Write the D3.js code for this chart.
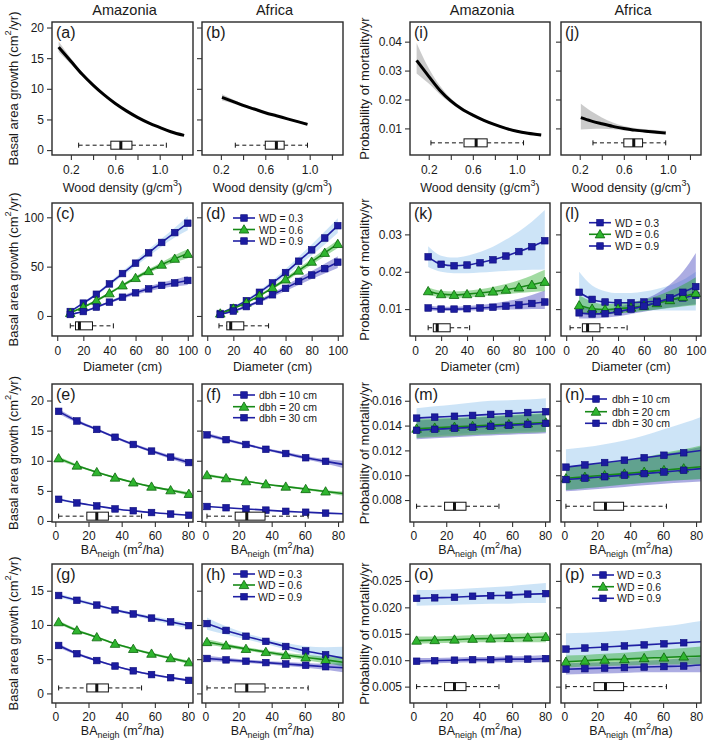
<!DOCTYPE html>
<html><head><meta charset="utf-8">
<script src="https://cdn.jsdelivr.net/npm/d3@7"></script>
<style>body{margin:0;background:#fff} svg text{font-family:"Liberation Sans",Arial,sans-serif;fill:#1a1a1a}</style>
</head><body><svg id="c" width="709" height="743"></svg>
<script>
// ---------------- DATA ----------------
const regions = ["Amazonia","Africa","Amazonia","Africa"];
const panelLabels = ["(a)","(b)","(c)","(d)","(e)","(f)","(g)","(h)","(i)","(j)","(k)","(l)","(m)","(n)","(o)","(p)"];
const wdTicks = [0.2,0.4,0.6,0.8,1.0,1.2], wdTickLabels = [0.2,0.6,1.0];
const dbhTicks = [0,20,40,60,80,100];
const baTicks = [0,20,40,60,80];
const legendWD = ["WD = 0.3","WD = 0.6","WD = 0.9"];
const legendDbh = ["dbh = 10 cm","dbh = 20 cm","dbh = 30 cm"];

// Row 1: wood density
const wdAm = [0.09,0.2,0.3,0.4,0.5,0.6,0.7,0.8,0.9,1.0,1.1,1.22];
const growthAm   = [16.8,14.5,12.4,10.6,9.0,7.6,6.4,5.35,4.45,3.7,3.0,2.4];
const growthAmLo = [16.0,14.0,12.1,10.4,8.85,7.5,6.3,5.25,4.35,3.6,2.9,2.25];
const growthAmHi = [17.7,15.0,12.7,10.8,9.15,7.7,6.5,5.45,4.55,3.8,3.1,2.55];
const mortAm   = [0.0335,0.028,0.0232,0.0195,0.0167,0.0146,0.0128,0.0113,0.0100,0.0090,0.0083,0.0077];
const mortAmLo = [0.0290,0.0255,0.0218,0.0187,0.0161,0.0141,0.0124,0.0109,0.0097,0.0087,0.0079,0.0072];
const mortAmHi = [0.0395,0.0308,0.0248,0.0204,0.0173,0.0151,0.0132,0.0117,0.0104,0.0094,0.0087,0.0082];
const wdAf = [0.21,0.3,0.4,0.5,0.6,0.7,0.8,0.9,0.98];
const growthAf   = [8.6,8.0,7.3,6.7,6.1,5.6,5.1,4.6,4.2];
const growthAfLo = [8.1,7.65,7.05,6.5,5.95,5.45,4.95,4.45,4.0];
const growthAfHi = [9.1,8.35,7.55,6.9,6.25,5.75,5.25,4.8,4.45];
const mortAf   = [0.0137,0.0126,0.0116,0.0107,0.0100,0.0094,0.0090,0.0087,0.0084];
const mortAfLo = [0.0096,0.0098,0.0099,0.0097,0.0093,0.0089,0.0085,0.0081,0.0077];
const mortAfHi = [0.0185,0.0160,0.0138,0.0120,0.0108,0.0101,0.0097,0.0094,0.0092];

// Row 2: diameter
const dbh = [10,20,30,40,50,60,70,80,90,100];
const c03 = [4.5,13,22,32.5,43,53.5,64,74.5,84.5,94];
const c03lo = [3.5,11.8,20.5,30.5,40.5,50.5,60.5,70.5,79.5,87];
const c03hi = [5.5,14.2,23.5,34.5,45.5,56.5,67.5,78.5,89.5,101];
const c06 = [3,9,15.5,23,31,38.5,45.5,52,58,63];
const c06lo = [2.3,8,14.3,21.7,29.5,36.8,43.5,49.5,54.5,58.5];
const c06hi = [3.7,10,16.7,24.3,32.5,40.2,47.5,54.5,61.5,67.5];
const c09 = [1.5,4.5,9,14,19,23.5,27.5,31,33.5,36];
const c09lo = [1,3.8,8,12.7,17.4,21.5,25,28,30,31.5];
const c09hi = [2,5.2,10,15.3,20.6,25.5,30,34,37,40.5];
const d03 = [2.5,8.5,15.5,24,33.5,44,55.5,67,79,91.5];
const d03lo = [1.8,7.5,14,22,31,40.5,51,61.5,72.5,84];
const d03hi = [3.2,9.5,17,26,36,47.5,60,72.5,85.5,99];
const d06 = [2.5,7.5,13.5,20.5,28.5,37,46,55,64,73];
const d06lo = [1.9,6.8,12.5,19.3,27,35,43.5,52,60.5,69];
const d06hi = [3.1,8.2,14.5,21.7,30,39,48.5,58,67.5,77];
const d09 = [1.5,5,9.5,15,21.5,28,35,41.5,48,54.5];
const d09lo = [0.8,4,8.2,13.3,19.3,25.3,31.5,37.5,43,48.5];
const d09hi = [2.2,6,10.8,16.7,23.7,30.7,38.5,45.5,53,60.5];
const k03 = [0.024,0.022,0.0216,0.0218,0.0224,0.0232,0.0242,0.0254,0.0267,0.0283];
const k03lo = [0.0213,0.0200,0.0196,0.0196,0.0198,0.0200,0.0202,0.0204,0.0205,0.0206];
const k03hi = [0.0268,0.0243,0.0238,0.0243,0.0253,0.0267,0.0286,0.0308,0.0334,0.0365];
const k06 = [0.0148,0.014,0.0138,0.014,0.0143,0.0147,0.0152,0.0158,0.0165,0.0173];
const k06lo = [0.0138,0.0132,0.0130,0.0132,0.0134,0.0137,0.0140,0.0143,0.0146,0.0148];
const k06hi = [0.0158,0.0149,0.0147,0.0149,0.0153,0.0159,0.0167,0.0177,0.0190,0.0205];
const k09 = [0.0103,0.0100,0.0100,0.0101,0.0103,0.0105,0.0108,0.0111,0.0115,0.0119];
const k09lo = [0.0096,0.0095,0.0095,0.0096,0.0097,0.0098,0.0099,0.0099,0.0100,0.0100];
const k09hi = [0.0110,0.0106,0.0106,0.0108,0.0111,0.0115,0.0121,0.0128,0.0138,0.0150];
const l03 = [0.0145,0.0126,0.0119,0.0117,0.0117,0.0119,0.0121,0.0125,0.0130,0.0137];
const l03lo = [0.0100,0.0097,0.0096,0.0096,0.0096,0.0096,0.0096,0.0096,0.0096,0.0096];
const l03hi = [0.0200,0.0163,0.0148,0.0143,0.0143,0.0147,0.0154,0.0163,0.0178,0.0200];
const l06 = [0.0110,0.0101,0.0099,0.0101,0.0104,0.0109,0.0116,0.0124,0.0133,0.0143];
const l06lo = [0.0088,0.0085,0.0086,0.0088,0.0091,0.0095,0.0099,0.0103,0.0107,0.0110];
const l06hi = [0.0137,0.0120,0.0113,0.0115,0.0119,0.0125,0.0135,0.0149,0.0165,0.0185];
const l09 = [0.0090,0.0087,0.0088,0.0093,0.0100,0.0108,0.0118,0.0130,0.0145,0.0160];
const l09lo = [0.0075,0.0075,0.0077,0.0081,0.0087,0.0093,0.0099,0.0104,0.0109,0.0113];
const l09hi = [0.0108,0.0101,0.0100,0.0106,0.0115,0.0126,0.0142,0.0166,0.0200,0.0250];

// Rows 3-4: neighbourhood basal area
const baAm = [2,13,25,36,47,58,69.5,80.5];
const baAf = [1,12.5,24.5,36.5,48.5,60.5,72.5,83];
const e30 = [18.2,16.6,15.2,13.9,12.7,11.6,10.6,9.7];
const e30lo = [17.8,16.3,15.0,13.7,12.5,11.35,10.3,9.3];
const e30hi = [18.6,16.9,15.4,14.1,12.9,11.85,10.9,10.1];
const e20 = [10.4,9.2,8.1,7.2,6.4,5.7,5.1,4.5];
const e20lo = [10.1,9.0,7.95,7.05,6.25,5.55,4.9,4.2];
const e20hi = [10.7,9.4,8.25,7.35,6.55,5.85,5.3,4.8];
const e10 = [3.6,3.0,2.5,2.0,1.7,1.4,1.15,0.95];
const e10lo = [3.4,2.85,2.4,1.92,1.62,1.32,1.05,0.82];
const e10hi = [3.8,3.15,2.6,2.08,1.78,1.48,1.25,1.08];
const f30 = [14.3,13.5,12.7,11.9,11.2,10.5,9.9,9.4];
const f30lo = [14.0,13.25,12.5,11.7,10.95,10.2,9.5,8.8];
const f30hi = [14.6,13.75,12.9,12.1,11.45,10.8,10.3,10.0];
const f20 = [7.6,7.1,6.6,6.1,5.7,5.3,4.9,4.55];
const f20lo = [7.35,6.9,6.45,5.97,5.55,5.12,4.7,4.2];
const f20hi = [7.85,7.3,6.75,6.23,5.85,5.48,5.1,4.9];
const f10 = [2.4,2.2,2.0,1.8,1.6,1.45,1.3,1.2];
const f10lo = [2.3,2.12,1.93,1.73,1.53,1.37,1.2,1.08];
const f10hi = [2.5,2.28,2.07,1.87,1.67,1.53,1.4,1.32];
const m10 = [0.0146,0.01468,0.01475,0.01482,0.0149,0.01497,0.01505,0.01512];
const m10lo = [0.0131,0.0132,0.0133,0.0134,0.01345,0.0135,0.01355,0.0136];
const m10hi = [0.0154,0.01555,0.0157,0.01585,0.016,0.01605,0.0161,0.0162];
const m20 = [0.01375,0.01383,0.0139,0.01397,0.01404,0.01411,0.01418,0.01425];
const m20lo = [0.0130,0.01308,0.01316,0.01324,0.0133,0.01336,0.01342,0.01348];
const m20hi = [0.0145,0.01458,0.01464,0.0147,0.01478,0.01486,0.01494,0.01502];
const m30 = [0.01362,0.0137,0.01378,0.01386,0.01394,0.01402,0.0141,0.01418];
const m30lo = [0.0129,0.01298,0.01306,0.01314,0.0132,0.01326,0.01332,0.01338];
const m30hi = [0.0144,0.01448,0.01456,0.01464,0.01472,0.0148,0.01488,0.01496];
const n10 = [0.01065,0.01083,0.01102,0.01121,0.01141,0.01161,0.01181,0.01199];
const n10lo = [0.0088,0.00895,0.0091,0.00925,0.0094,0.00952,0.00962,0.0097];
const n10hi = [0.0121,0.01225,0.0125,0.0128,0.0132,0.0137,0.0142,0.0147];
const n20 = [0.00975,0.00987,0.0100,0.01013,0.01027,0.01041,0.01055,0.01068];
const n20lo = [0.0088,0.00895,0.0091,0.00925,0.0094,0.00952,0.00962,0.0097];
const n20hi = [0.0107,0.01083,0.0110,0.0112,0.01145,0.0118,0.0121,0.0124];
const n30 = [0.00965,0.00976,0.00988,0.0100,0.01013,0.01026,0.0104,0.01053];
const n30lo = [0.0087,0.0088,0.00893,0.00906,0.0092,0.00932,0.00942,0.0095];
const n30hi = [0.0107,0.0108,0.01095,0.01115,0.0114,0.0117,0.0120,0.0123];
const g03 = [14.3,13.6,12.9,12.2,11.6,11.0,10.45,9.9];
const g03lo = [14.0,13.35,12.7,12.0,11.35,10.7,10.1,9.45];
const g03hi = [14.6,13.85,13.1,12.4,11.85,11.3,10.8,10.35];
const g06 = [10.4,9.2,8.2,7.25,6.5,5.8,5.15,4.55];
const g06lo = [10.15,9.0,8.05,7.1,6.35,5.62,4.95,4.3];
const g06hi = [10.65,9.4,8.35,7.4,6.65,5.98,5.35,4.8];
const g09 = [7.0,5.8,4.8,4.0,3.3,2.75,2.3,1.9];
const g09lo = [6.7,5.6,4.65,3.88,3.18,2.62,2.15,1.72];
const g09hi = [7.3,6.0,4.95,4.12,3.42,2.88,2.45,2.08];
const h03 = [10.2,9.2,8.35,7.6,6.85,6.2,5.65,5.15];
const h03lo = [9.3,8.6,7.9,7.2,6.4,5.6,4.75,3.8];
const h03hi = [11.1,9.8,8.8,8.0,7.35,6.9,6.75,6.8];
const h06 = [7.5,7.0,6.5,6.05,5.6,5.25,4.9,4.55];
const h06lo = [7.1,6.7,6.25,5.8,5.3,4.85,4.4,4.0];
const h06hi = [7.9,7.3,6.75,6.3,5.9,5.65,5.4,5.4];
const h09 = [5.1,4.9,4.7,4.5,4.3,4.1,3.9,3.75];
const h09lo = [4.7,4.6,4.45,4.25,4.0,3.75,3.45,3.1];
const h09hi = [5.5,5.2,4.95,4.75,4.6,4.45,4.35,4.4];
const o03 = [0.0217,0.0218,0.0219,0.0221,0.0222,0.0223,0.0225,0.0226];
const o03lo = [0.0203,0.0204,0.0205,0.0206,0.0207,0.0207,0.0208,0.0208];
const o03hi = [0.0233,0.0233,0.0234,0.0236,0.0238,0.0240,0.0243,0.0246];
const o06 = [0.0137,0.0138,0.0139,0.01405,0.0141,0.0142,0.0143,0.0144];
const o06lo = [0.0131,0.0132,0.0133,0.0134,0.0134,0.0134,0.0134,0.0134];
const o06hi = [0.0145,0.0145,0.0146,0.0147,0.0148,0.0150,0.0151,0.0153];
const o09 = [0.0098,0.0099,0.0100,0.0101,0.0101,0.0102,0.0102,0.0103];
const o09lo = [0.0093,0.0094,0.0095,0.0096,0.0096,0.0096,0.0096,0.0096];
const o09hi = [0.0104,0.0104,0.0105,0.0106,0.0106,0.0107,0.0108,0.0110];
const p03 = [0.0121,0.0123,0.0125,0.0127,0.0129,0.0131,0.0133,0.0135];
const p03lo = [0.0098,0.0100,0.0102,0.0103,0.0104,0.0105,0.0105,0.0105];
const p03hi = [0.0151,0.0152,0.0154,0.0156,0.0160,0.0164,0.0169,0.0174];
const p06 = [0.0097,0.0099,0.0101,0.0102,0.0104,0.0105,0.0107,0.0108];
const p06lo = [0.0086,0.0088,0.0089,0.0090,0.0091,0.0092,0.0092,0.0092];
const p06hi = [0.0109,0.0110,0.0112,0.0114,0.0117,0.0120,0.0123,0.0126];
const p09 = [0.0083,0.0084,0.0085,0.0086,0.0087,0.0088,0.0089,0.0091];
const p09lo = [0.0073,0.0074,0.0075,0.0076,0.0077,0.0077,0.0077,0.0077];
const p09hi = [0.0094,0.0095,0.0096,0.0097,0.0099,0.0101,0.0103,0.0106];

// Box plots: [min, q1, median, q3, max]
const boxWdAmG = [0.27,0.56,0.65,0.75,1.06], boxWdAfG = [0.33,0.6,0.70,0.77,0.98];
const boxWdAmM = [0.22,0.52,0.63,0.73,1.06], boxWdAfM = [0.32,0.6,0.69,0.77,0.98];
const boxDbhC = [10,14,17,27,43], boxDbhD = [9,15,18,28,47];
const boxDbhK = [10,14,17,27,42], boxDbhL = [3,12.5,16.5,26,47];
const boxBaAm = [2,19,25,32,52], boxBaAf = [1,18,25,36,62];

// ---------------- LAYOUT / STYLE ----------------
const colX=[52,202,410,561], colW=[141,141,140,140];
const rowY=[22,203,384,564], rowH=[133,133,138,139];
const tickPad=[5.5,5.5,4.5,4.5];
const xTitleY=[188,367,550,731];
const BAND={lb:"rgba(100,170,230,0.32)", gr:"rgba(34,170,34,0.42)", pu:"rgba(70,70,190,0.45)"};
const bandOrder={lb:0,pu:1,gr:2};
const SQ_FILL="#1c1ca0", SQ_STROKE="#0a0a78", BLUE_LINE="#2020a4";
const TRI_FILL="#2fb52f", TRI_STROKE="#0c660c", GREEN_LINE="#178a17";

const S=(x,y,lo,hi,shape,band)=>({x,y,lo,hi,shape,band});
const panels=[
 {lab:0,col:0,row:0,xd:[0.03,1.3],yd:[-0.8,20.9],xt:wdTicks,xl:wdTickLabels,xf:".1f",yt:[0,5,10,15,20],yf:"d",
  curve:S(wdAm,growthAm,growthAmLo,growthAmHi),box:boxWdAmG,boxY:0.8},
 {lab:1,col:1,row:0,xd:[0.03,1.3],yd:[-0.8,20.9],xt:wdTicks,xl:wdTickLabels,xf:".1f",yt:[0,5,10,15,20],yf:"d",
  curve:S(wdAf,growthAf,growthAfLo,growthAfHi),box:boxWdAfG,boxY:0.8},
 {lab:8,col:2,row:0,xd:[0.03,1.3],yd:[0.0008,0.0468],xt:wdTicks,xl:wdTickLabels,xf:".1f",yt:[0.01,0.02,0.03,0.04],yf:".2f",
  curve:S(wdAm,mortAm,mortAmLo,mortAmHi),box:boxWdAmM,boxY:0.005},
 {lab:9,col:3,row:0,xd:[0.03,1.3],yd:[0.0008,0.0468],xt:wdTicks,xl:wdTickLabels,xf:".1f",yt:[0.01,0.02,0.03,0.04],yf:".2f",
  curve:S(wdAf,mortAf,mortAfLo,mortAfHi),box:boxWdAfM,boxY:0.005},
 {lab:2,col:0,row:1,xd:[-4,104],yd:[-20.3,114.5],xt:dbhTicks,xl:dbhTicks,xf:"d",yt:[0,50,100],yf:"d",mk:100,
  series:[S(dbh,c03,c03lo,c03hi,"sq","lb"),S(dbh,c06,c06lo,c06hi,"tri","gr"),S(dbh,c09,c09lo,c09hi,"sq","pu")],box:boxDbhC,boxY:-10},
 {lab:3,col:1,row:1,xd:[-4,104],yd:[-20.3,114.5],xt:dbhTicks,xl:dbhTicks,xf:"d",yt:[0,50,100],yf:"d",mk:100,
  series:[S(dbh,d03,d03lo,d03hi,"sq","lb"),S(dbh,d06,d06lo,d06hi,"tri","gr"),S(dbh,d09,d09lo,d09hi,"sq","pu")],box:boxDbhD,boxY:-10,
  legend:{labels:legendWD,x:31,tx:57,ys:[15,26.5,38]}},
 {lab:10,col:2,row:1,xd:[-4,104],yd:[0.0028,0.0384],xt:dbhTicks,xl:dbhTicks,xf:"d",yt:[0.01,0.02,0.03],yf:".2f",mk:100,
  series:[S(dbh,k03,k03lo,k03hi,"sq","lb"),S(dbh,k06,k06lo,k06hi,"tri","gr"),S(dbh,k09,k09lo,k09hi,"sq","pu")],box:boxDbhK,boxY:0.005},
 {lab:11,col:3,row:1,xd:[-4,104],yd:[0.0028,0.0384],xt:dbhTicks,xl:dbhTicks,xf:"d",yt:[0.01,0.02,0.03],yf:".2f",mk:100,
  series:[S(dbh,l03,l03lo,l03hi,"sq","lb"),S(dbh,l06,l06lo,l06hi,"tri","gr"),S(dbh,l09,l09lo,l09hi,"sq","pu")],box:boxDbhL,boxY:0.005,
  legend:{labels:legendWD,x:28,tx:54,ys:[19.7,31.3,43]}},
 {lab:4,col:0,row:2,xd:[-2,83],yd:[-0.17,22.74],xt:baTicks,xl:baTicks,xf:"d",yt:[0,5,10,15,20],yf:"d",mk:81,
  series:[S(baAm,e10,e10lo,e10hi,"sq","lb"),S(baAm,e20,e20lo,e20hi,"tri","gr"),S(baAm,e30,e30lo,e30hi,"sq","pu")],box:boxBaAm,boxY:0.8},
 {lab:5,col:1,row:2,xd:[-2,83],yd:[-0.17,22.74],xt:baTicks,xl:baTicks,xf:"d",yt:[0,5,10,15,20],yf:"d",mk:81,
  series:[S(baAf,f10,f10lo,f10hi,"sq","lb"),S(baAf,f20,f20lo,f20hi,"tri","gr"),S(baAf,f30,f30lo,f30hi,"sq","pu")],box:boxBaAf,boxY:0.8,
  legend:{labels:legendDbh,x:31,tx:57,ys:[11,22.7,33.7]}},
 {lab:12,col:2,row:2,xd:[-2,83],yd:[0.00623,0.01735],xt:baTicks,xl:baTicks,xf:"d",yt:[0.008,0.010,0.012,0.014,0.016],yf:".3f",mk:81,
  series:[S(baAm,m10,m10lo,m10hi,"sq","lb"),S(baAm,m20,m20lo,m20hi,"tri","gr"),S(baAm,m30,m30lo,m30hi,"sq","pu")],box:boxBaAm,boxY:0.0075},
 {lab:13,col:3,row:2,xd:[-2,83],yd:[0.00623,0.01735],xt:baTicks,xl:baTicks,xf:"d",yt:[0.008,0.010,0.012,0.014,0.016],yf:".3f",mk:81,
  series:[S(baAf,n10,n10lo,n10hi,"sq","lb"),S(baAf,n20,n20lo,n20hi,"tri","gr"),S(baAf,n30,n30lo,n30hi,"sq","pu")],box:boxBaAf,boxY:0.0075,
  legend:{labels:legendDbh,x:24,tx:51,ys:[15,27.7,39.3]}},
 {lab:6,col:0,row:3,xd:[-2,83],yd:[-1.4,18.9],xt:baTicks,xl:baTicks,xf:"d",yt:[0,5,10,15],yf:"d",mk:81,
  series:[S(baAm,g03,g03lo,g03hi,"sq","lb"),S(baAm,g06,g06lo,g06hi,"tri","gr"),S(baAm,g09,g09lo,g09hi,"sq","pu")],box:boxBaAm,boxY:0.8},
 {lab:7,col:1,row:3,xd:[-2,83],yd:[-1.4,18.9],xt:baTicks,xl:baTicks,xf:"d",yt:[0,5,10,15],yf:"d",mk:81,
  series:[S(baAf,h03,h03lo,h03hi,"sq","lb"),S(baAf,h06,h06lo,h06hi,"tri","gr"),S(baAf,h09,h09lo,h09hi,"sq","pu")],box:boxBaAf,boxY:0.8,
  legend:{labels:legendWD,x:31,tx:56,ys:[10,21,32.7]}},
 {lab:14,col:2,row:3,xd:[-2,83],yd:[0.0019,0.0282],xt:baTicks,xl:baTicks,xf:"d",yt:[0.005,0.010,0.015,0.020,0.025],yf:".3f",mk:81,
  series:[S(baAm,o03,o03lo,o03hi,"sq","lb"),S(baAm,o06,o06lo,o06hi,"tri","gr"),S(baAm,o09,o09lo,o09hi,"sq","pu")],box:boxBaAm,boxY:0.005},
 {lab:15,col:3,row:3,xd:[-2,83],yd:[0.0019,0.0282],xt:baTicks,xl:baTicks,xf:"d",yt:[0.005,0.010,0.015,0.020,0.025],yf:".3f",mk:81,
  series:[S(baAf,p03,p03lo,p03hi,"sq","lb"),S(baAf,p06,p06lo,p06hi,"tri","gr"),S(baAf,p09,p09lo,p09hi,"sq","pu")],box:boxBaAf,boxY:0.005,
  legend:{labels:legendWD,x:31,tx:56,ys:[11,22.7,34.3]}}
];

const svg=d3.select("#c");

function rich(parent,x,y,parts,size,rotate){
  const t=parent.append("text").attr("x",x).attr("y",y).attr("font-size",size)
    .attr("text-anchor","middle").attr("dominant-baseline","central");
  if(rotate) t.attr("transform",`rotate(-90,${x},${y})`);
  let shift=0;
  parts.forEach(p=>{
    const target=p.sup?-size*0.42:(p.sub?size*0.28:0);
    const s=t.append("tspan").text(p.t).attr("dy",target-shift);
    shift=target;
    if(p.sup||p.sub) s.attr("font-size",size*0.72);
  });
  return t;
}

function marker(sel,shape,x,y){
  if(shape==="tri"){
    sel.append("path").attr("d",d3.symbol(d3.symbolTriangle,40)()).attr("transform",`translate(${x},${y+0.8})`)
      .attr("fill",TRI_FILL).attr("stroke",TRI_STROKE).attr("stroke-width",0.8);
  } else {
    sel.append("rect").attr("x",x-3.3).attr("y",y-3.3).attr("width",6.6).attr("height",6.6)
      .attr("fill",SQ_FILL).attr("stroke",SQ_STROKE).attr("stroke-width",0.6);
  }
}

panels.forEach((p,i)=>{
  const W=colW[p.col],H=rowH[p.row];
  const g=svg.append("g").attr("transform",`translate(${colX[p.col]},${rowY[p.row]})`);
  const xs=d3.scaleLinear().domain(p.xd).range([0,W]);
  const ys=d3.scaleLinear().domain(p.yd).range([H,0]);
  g.append("clipPath").attr("id","clip"+i).append("rect").attr("width",W).attr("height",H);
  const inner=g.append("g").attr("clip-path",`url(#clip${i})`);
  const areaOf=s=>d3.area().x(j=>xs(s.x[j])).y0(j=>ys(s.lo[j])).y1(j=>ys(s.hi[j])).curve(d3.curveMonotoneX);
  const lineOf=s=>d3.line().x(j=>xs(s.x[j])).y(j=>ys(s.y[j])).curve(d3.curveMonotoneX);
  if(p.curve){
    const c=p.curve, idx=d3.range(c.x.length);
    inner.append("path").datum(idx).attr("d",areaOf(c)).attr("fill","rgba(140,140,140,0.45)");
    inner.append("path").datum(idx).attr("d",lineOf(c)).attr("fill","none").attr("stroke","#000").attr("stroke-width",3);
  }
  if(p.series){
    p.series.slice().sort((a,b)=>bandOrder[a.band]-bandOrder[b.band]).forEach(s=>{
      inner.append("path").datum(d3.range(s.x.length)).attr("d",areaOf(s)).attr("fill",BAND[s.band]);
    });
    p.series.forEach(s=>{
      inner.append("path").datum(d3.range(s.x.length)).attr("d",lineOf(s)).attr("fill","none")
        .attr("stroke",s.shape==="tri"?GREEN_LINE:BLUE_LINE).attr("stroke-width",1.6);
      s.x.forEach((xv,j)=>{ if(xv<=p.mk) marker(inner,s.shape,xs(xv),ys(s.y[j])); });
    });
  }
  // box plot
  const [mn,q1,md,q3,mx]=p.box, by=ys(p.boxY), bh=8;
  const bx=g.append("g").attr("stroke","#111").attr("stroke-width",1);
  bx.append("line").attr("x1",xs(mn)).attr("x2",xs(q1)).attr("y1",by).attr("y2",by).attr("stroke-dasharray","4,3");
  bx.append("line").attr("x1",xs(q3)).attr("x2",xs(mx)).attr("y1",by).attr("y2",by).attr("stroke-dasharray","4,3");
  [mn,mx].forEach(v=>bx.append("line").attr("x1",xs(v)).attr("x2",xs(v)).attr("y1",by-2.5).attr("y2",by+2.5));
  bx.append("rect").attr("x",xs(q1)).attr("y",by-bh/2).attr("width",xs(q3)-xs(q1)).attr("height",bh).attr("fill","#fff");
  bx.append("line").attr("x1",xs(md)).attr("x2",xs(md)).attr("y1",by-bh/2).attr("y2",by+bh/2).attr("stroke-width",3);
  // frame
  g.append("rect").attr("width",W).attr("height",H).attr("fill","none").attr("stroke","#2a2a2a").attr("stroke-width",1.4);
  // axes
  const xf=d3.format(p.xf), yf=d3.format(p.yf);
  const xa=g.append("g").attr("transform",`translate(0,${H})`)
    .call(d3.axisBottom(xs).tickValues(p.xt).tickSize(5).tickPadding(tickPad[p.row]).tickFormat(d=>p.xl.includes(d)?xf(d):""));
  const showY=(p.col===0||p.col===2);
  const ya=g.append("g").call(d3.axisLeft(ys).tickValues(p.yt).tickSize(5).tickPadding(3).tickFormat(d=>showY?yf(d):""));
  [xa,ya].forEach(a=>{a.select(".domain").remove();a.selectAll("line").attr("stroke","#333").attr("stroke-width",1.1);
    a.selectAll("text").attr("font-size",12).attr("fill","#222").attr("font-family",'"Liberation Sans",Arial,sans-serif');});
  // panel label
  g.append("text").attr("x",4).attr("y",16).attr("font-size",16).text(panelLabels[p.lab]);
  // legend
  if(p.legend){
    const L=p.legend;
    L.labels.forEach((lab,k)=>{
      const s=p.series[k], y=L.ys[k];
      g.append("line").attr("x1",L.x).attr("x2",L.x+22).attr("y1",y).attr("y2",y)
        .attr("stroke",s.shape==="tri"?GREEN_LINE:BLUE_LINE).attr("stroke-width",1.6);
      marker(g,s.shape,L.x+11,y);
      g.append("text").attr("x",L.tx).attr("y",y).attr("dominant-baseline","central").attr("font-size",10.5).text(lab);
    });
  }
});

// column titles
regions.forEach((r,c)=>{
  svg.append("text").attr("x",colX[c]+colW[c]/2+2).attr("y",10).attr("text-anchor","middle")
    .attr("dominant-baseline","central").attr("font-size",14.5).text(r);
});
// y axis titles
const growthTitle=[{t:"Basal area growth (cm"},{t:"2",sup:true},{t:"/yr)"}];
const mortTitle=[{t:"Probability of mortality/yr"}];
rowY.forEach((y0,r)=>{
  rich(svg,13,y0+rowH[r]/2,growthTitle,13,true);
  rich(svg,364,y0+rowH[r]/2,mortTitle,13,true);
});
// x axis titles
const xTitles=[
  [{t:"Wood density (g/cm"},{t:"3",sup:true},{t:")"}],
  [{t:"Diameter (cm)"}],
  [{t:"BA"},{t:"neigh",sub:true},{t:" (m"},{t:"2",sup:true},{t:"/ha)"}],
  [{t:"BA"},{t:"neigh",sub:true},{t:" (m"},{t:"2",sup:true},{t:"/ha)"}]
];
xTitles.forEach((parts,r)=>{
  colX.forEach((x0,c)=>rich(svg,x0+colW[c]/2,xTitleY[r],parts,12.5,false));
});
</script></body></html>
